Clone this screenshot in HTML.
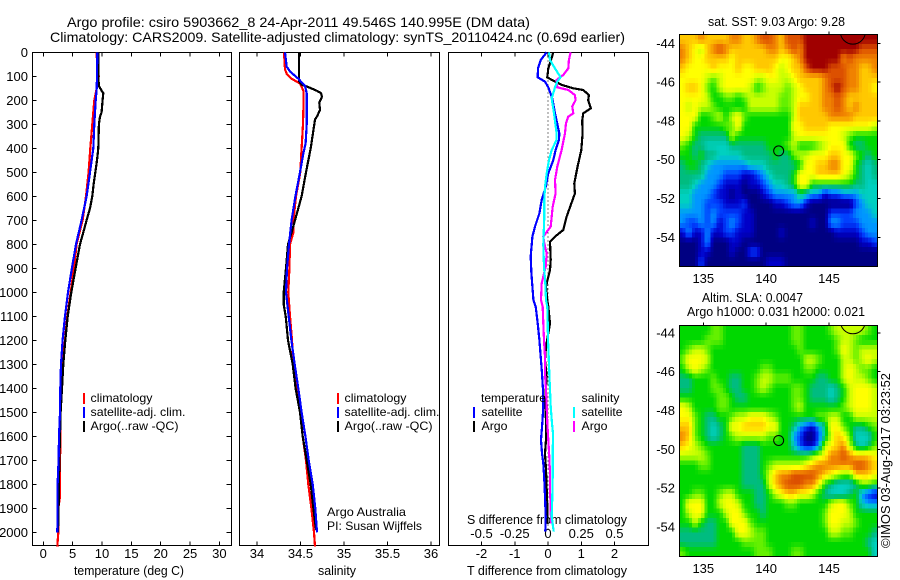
<!DOCTYPE html>
<html>
<head>
<meta charset="utf-8">
<title>Argo profile</title>
<style>
html,body{margin:0;padding:0;background:#fff;}
svg{display:block;}
text{font-family:"Liberation Sans",Arial,sans-serif;fill:#000;font-size:12px;}
.tick{font-size:13px;}
.ttl{font-size:14px;}
</style>
</head>
<body>
<svg id="chart" xmlns="http://www.w3.org/2000/svg" width="900" height="580" viewBox="0 0 900 580">
<defs>
<clipPath id="clipMap1"><rect x="679.5" y="34.5" width="198" height="232"/></clipPath>
<clipPath id="clipMap2"><rect x="679.5" y="325.5" width="198" height="231"/></clipPath>
</defs>
<text class="ttl" x="67" y="27" textLength="463" lengthAdjust="spacingAndGlyphs">Argo profile: csiro 5903662_8 24-Apr-2011 49.546S 140.995E (DM data)</text>
<text class="ttl" x="50" y="42" textLength="575" lengthAdjust="spacingAndGlyphs">Climatology: CARS2009. Satellite-adjusted climatology: synTS_20110424.nc (0.69d earlier)</text>

<text class="tick" x="74" y="575" textLength="110" lengthAdjust="spacingAndGlyphs">temperature (deg C)</text>
<text class="tick" x="318" y="575" textLength="38" lengthAdjust="spacingAndGlyphs">salinity</text>
<text class="tick" x="467" y="575" textLength="160" lengthAdjust="spacingAndGlyphs">T difference from climatology</text>
<text class="tick" x="467" y="524" textLength="160" lengthAdjust="spacingAndGlyphs">S difference from climatology</text>

<text class="tick" x="708" y="26" textLength="137" lengthAdjust="spacingAndGlyphs">sat. SST: 9.03 Argo: 9.28</text>
<text class="tick" x="702" y="302" textLength="101" lengthAdjust="spacingAndGlyphs">Altim. SLA: 0.0047</text>
<text class="tick" x="687" y="316" textLength="178" lengthAdjust="spacingAndGlyphs">Argo h1000: 0.031 h2000: 0.021</text>
<text class="tick" transform="translate(890,548) rotate(-90)" textLength="175" lengthAdjust="spacingAndGlyphs">©IMOS 03-Aug-2017 03:23:52</text>

<g id="panels"></g>

<text x="90.5" y="402" textLength="62" lengthAdjust="spacingAndGlyphs">climatology</text>
<text x="90.5" y="416" textLength="95" lengthAdjust="spacingAndGlyphs">satellite-adj. clim.</text>
<text x="90.5" y="430" textLength="88" lengthAdjust="spacingAndGlyphs">Argo(..raw -QC)</text>
<text x="344.5" y="402" textLength="62" lengthAdjust="spacingAndGlyphs">climatology</text>
<text x="344.5" y="416" textLength="95" lengthAdjust="spacingAndGlyphs">satellite-adj. clim.</text>
<text x="344.5" y="430" textLength="88" lengthAdjust="spacingAndGlyphs">Argo(..raw -QC)</text>
<text x="327" y="516" textLength="79" lengthAdjust="spacingAndGlyphs">Argo Australia</text>
<text x="327" y="530" textLength="95" lengthAdjust="spacingAndGlyphs">PI: Susan Wijffels</text>
<text x="481" y="402" textLength="65" lengthAdjust="spacingAndGlyphs">temperature</text>
<text x="481.5" y="416" textLength="41" lengthAdjust="spacingAndGlyphs">satellite</text>
<text x="481.5" y="430" textLength="26" lengthAdjust="spacingAndGlyphs">Argo</text>
<text x="581.5" y="402" textLength="38" lengthAdjust="spacingAndGlyphs">salinity</text>
<text x="581.5" y="416" textLength="41" lengthAdjust="spacingAndGlyphs">satellite</text>
<text x="581.5" y="430" textLength="26" lengthAdjust="spacingAndGlyphs">Argo</text>
</svg>

<script>
// ---- axis labels ----
var depthTicks = [0,100,200,300,400,500,600,700,800,900,1000,1100,1200,1300,1400,1500,1600,1700,1800,1900,2000];
var tempTicks = [0,5,10,15,20,25,30];
var salTicks = [34,34.5,35,35.5,36];
var tDiffTicks = [-2,-1,0,1,2];
var sDiffTicks = [-0.5,-0.25,0,0.25,0.5];
var lonTicks = [135,140,145];
var latTicks = [-44,-46,-48,-50,-52,-54];

// ---- temperature profiles ----
var tempClimDepth = [0,90,100,110,150,200,300,400,500,600,700,800,900,1000,1100,1200,1300,1400,1500,1600,1700,1800,1850,1900,2000,2060];
var tempClimValue = [9.09,9.2,9.48,9.2,9.09,8.69,8.35,8.01,7.72,7.27,6.7,5.68,5.22,4.66,4.09,3.69,3.24,3.01,2.95,2.95,2.84,2.84,2.84,2.56,2.56,2.39];
var tempSatDepth = [0,100,150,200,300,400,500,600,700,800,900,1000,1100,1200,1300,1400,1500,1600,1700,1800,1900,2000];
var tempSatValue = [9.2,9.14,9.09,8.92,8.69,8.52,7.95,7.38,6.53,5.57,4.88,4.2,3.69,3.29,3.01,2.9,2.84,2.67,2.61,2.44,2.44,2.39];
var tempArgoDepth = [0,100,140,160,170,200,250,270,300,400,450,500,550,600,650,700,750,800,900,1000,1100,1200,1300,1400,1500,1600,1700,1800,1900,2000];
var tempArgoValue = [9.37,9.37,9.48,9.94,10.22,10.11,9.94,9.65,9.48,9.37,9.14,8.86,8.57,8.35,7.95,7.38,6.81,6.25,5.51,4.77,4.15,3.75,3.41,3.18,2.95,2.84,2.73,2.67,2.61,2.5];

// ---- salinity profiles ----
var salClimDepth = [0,70,90,110,130,160,200,300,400,500,600,700,750,800,900,1000,1100,1200,1300,1400,1500,1600,1700,1800,1900,2000,2060];
var salClimValue = [34.31,34.322,34.341,34.398,34.494,34.533,34.536,34.529,34.513,34.498,34.448,34.418,34.418,34.379,34.372,34.36,34.379,34.402,34.418,34.467,34.498,34.525,34.563,34.59,34.625,34.655,34.667];
var salSatDepth = [0,60,80,110,140,170,300,380,420,500,600,700,800,900,1000,1100,1200,1300,1400,1500,1600,1700,1800,1900,2000];
var salSatValue = [34.322,34.341,34.379,34.475,34.552,34.571,34.571,34.559,34.533,34.494,34.441,34.398,34.368,34.345,34.333,34.364,34.395,34.433,34.475,34.513,34.556,34.594,34.64,34.67,34.69];
var salArgoDepth = [0,120,135,145,160,170,185,210,240,265,280,300,400,500,600,650,700,750,800,900,1000,1050,1100,1200,1300,1400,1500,1600,1700,1800,1900,1990];
var salArgoValue = [34.483,34.483,34.513,34.59,34.686,34.736,34.747,34.716,34.724,34.693,34.667,34.659,34.617,34.563,34.513,34.475,34.437,34.398,34.356,34.333,34.307,34.307,34.33,34.356,34.41,34.444,34.494,34.525,34.571,34.617,34.648,34.678];

// ---- difference profiles ----
var dTempSatDepth = [0,32,67,104,122,146,192,254,337,365,407,449,504,560,615,671,726,768,851,921,976,1032,1060,1129,1199,1268,1338,1407,1476,1546,1615,1671,1713,1782,1851,1935,1997];
var dTempSatValue = [-0.04,-0.22,-0.3,-0.31,-0.09,0.01,0.13,0.21,0.34,0.33,0.23,0.16,0.01,-0.07,-0.19,-0.26,-0.39,-0.47,-0.52,-0.5,-0.47,-0.44,-0.37,-0.31,-0.26,-0.22,-0.18,-0.15,-0.14,-0.17,-0.21,-0.18,-0.14,-0.11,-0.09,-0.07,-0.08];
var dTempArgoDepth = [0,32,67,104,115,136,150,157,178,199,233,254,285,337,407,476,546,588,615,685,740,768,789,865,907,935,976,1032,1060,1129,1171,1226,1282,1351,1435,1546,1615,1671,1740,1824,1893,1963];
var dTempArgoValue = [0.16,0.09,0.01,-0.02,0.11,0.41,0.76,1.06,1.23,1.21,1.29,1.06,1.03,1.04,1.0,0.89,0.79,0.81,0.74,0.56,0.46,0.21,0.06,0.08,0.06,0.01,-0.06,-0.02,0.01,0.06,0.01,-0.06,-0.09,-0.04,-0.08,-0.06,-0.06,-0.09,-0.06,-0.04,-0.02,-0.02];
var dSalSatDepth = [0,32,67,104,122,146,192,254,337,365,407,449,504,560,615,685,754,803,893,962,1032,1060,1129,1199,1268,1338,1407,1476,1546,1588,1685,1768,1851,1935,1997];
var dSalSatValue = [0.0075,0.015,0.0525,0.095,0.07,0.0525,0.0275,0.045,0.065,0.065,0.0275,0.0075,-0.01,-0.0225,-0.0275,-0.0275,-0.0325,-0.035,-0.03,-0.02,-0.015,-0.005,-0.0025,0,0.005,0.01,0.015,0.02,0.03,0.0375,0.035,0.035,0.0325,0.0275,0.0425];
var dSalArgoDepth = [0,32,67,94,115,146,157,178,199,226,254,268,296,337,407,476,532,588,643,726,768,796,838,893,962,1032,1060,1129,1199,1268,1338,1407,1476,1546,1615,1685,1754,1824,1893,1963];
var dSalArgoValue = [0.17,0.1575,0.1525,0.115,0.065,0.07,0.1525,0.2025,0.2075,0.1825,0.19,0.1525,0.135,0.1275,0.1025,0.07,0.0525,0.0575,0.035,0.02,-0.035,-0.0275,-0.01,-0.0175,-0.0475,-0.0525,-0.04,-0.035,-0.03,-0.0225,-0.0225,-0.015,-0.01,-0.005,0.0025,0.01,0.015,0.015,0.02,0.0225];

// ---- map colour levels ----
var colorLevels = ["#000082","#0000c8","#0040ff","#0096ff","#00d0c0","#00bc80","#00d800","#64f000","#c8ff00","#ffff00","#ffc800","#f08200","#dc5000","#a00000"];

var sstRows = [
[10,10,10,11,10,10,10,10,11,11,10,10,11,12,12,11,10,12,12,12,13,13,13,13,13,13,13,13,13,13,13,13],
[11,10,9,8,10,11,12,11,10,10,10,10,10,10,11,11,10,11,12,11,13,13,13,13,13,13,13,13,13,12,12,12],
[11,10,9,9,10,10,10,10,9,10,10,10,10,10,10,10,9,9,10,11,13,13,13,13,13,13,11,12,11,11,11,11],
[10,9,9,9,9,10,9,9,9,10,9,9,10,10,10,9,8,9,10,10,12,13,13,13,12,12,12,11,11,10,10,11],
[9,9,9,9,8,7,8,9,9,9,9,9,8,8,9,9,8,8,9,10,10,10,10,11,12,12,12,11,11,10,10,10],
[9,10,10,9,7,6,8,9,9,9,9,8,6,7,8,8,8,7,8,9,10,10,10,11,12,13,12,11,11,10,10,9],
[9,9,9,9,8,6,6,7,7,6,7,8,8,8,8,8,7,7,8,9,9,10,10,11,11,12,11,10,10,10,10,10],
[9,8,9,8,8,7,6,6,6,6,6,8,8,8,8,8,7,7,8,10,10,10,10,11,11,12,11,10,11,10,10,10],
[9,9,9,6,6,7,8,6,8,9,7,6,6,6,6,6,6,6,8,10,10,10,10,10,11,11,11,11,10,10,10,10],
[9,9,6,6,6,6,6,7,7,9,6,6,6,6,6,6,6,6,9,9,10,10,10,10,9,9,9,9,9,9,9,8],
[9,8,6,5,5,5,5,5,8,6,6,6,6,6,6,6,6,6,8,9,9,9,9,9,9,9,8,7,6,6,6,6],
[7,6,5,5,4,4,4,4,5,5,5,5,5,5,6,6,6,7,8,6,6,6,7,8,9,9,9,6,5,5,6,6],
[6,6,5,6,5,5,4,4,4,4,5,5,5,5,5,6,5,5,7,8,8,9,9,9,10,10,9,9,7,6,5,6],
[5,6,6,5,4,3,3,3,3,3,3,4,4,4,5,5,5,5,5,6,9,9,10,10,11,11,9,9,6,5,4,5],
[5,5,5,5,3,3,3,2,2,2,1,1,2,3,4,5,5,5,6,9,9,9,10,10,10,10,9,8,6,5,4,5],
[5,5,4,3,3,3,2,1,1,1,0,1,1,2,3,4,4,5,6,9,9,6,6,6,6,6,6,6,5,5,4,4],
[4,4,3,3,3,2,1,1,0,1,0,0,0,1,2,3,3,3,3,5,4,3,3,1,2,2,3,3,3,4,4,4],
[4,4,3,3,2,2,2,1,1,1,2,0,0,0,0,1,1,2,3,3,1,0,0,0,0,0,0,0,2,3,4,4],
[3,3,3,3,2,3,2,2,2,2,1,1,0,0,0,0,0,0,0,0,0,0,0,0,2,2,2,2,3,3,3,4],
[3,2,2,3,2,3,1,2,3,2,1,1,0,0,0,0,0,0,0,0,0,1,0,0,3,3,2,2,2,3,3,3],
[1,3,1,1,3,1,1,2,2,1,1,1,0,0,0,0,1,0,0,0,0,0,0,0,0,1,1,1,1,2,3,3],
[0,0,0,1,3,0,0,0,1,1,0,0,0,0,0,0,0,0,0,0,0,0,0,0,0,0,0,0,0,1,1,2],
[0,0,0,1,1,0,0,0,1,0,0,2,2,0,0,0,0,0,0,0,0,0,0,0,0,0,0,0,0,0,0,0],
[0,0,0,2,0,0,0,0,0,0,0,0,0,0,1,1,1,0,0,0,0,0,0,0,0,0,0,0,0,0,0,0]
];

var slaRows = [
[6,6,6,6,6,7,7,6,6,6,6,6,6,6,6,6,6,6,7,7,6,6,6,6,7,8,8,8,8,8,7,6],
[6,6,6,6,7,7,7,6,6,6,6,6,6,6,6,6,6,6,7,7,6,6,6,6,6,7,8,8,7,6,6,6],
[6,7,8,8,7,6,6,6,6,6,6,6,6,6,6,6,6,6,6,7,6,6,6,6,6,7,9,8,7,8,8,8],
[7,9,9,9,8,6,6,6,6,6,6,6,6,6,6,6,6,6,6,6,8,8,7,6,6,6,8,8,7,8,9,8],
[6,8,9,8,7,6,6,6,6,6,6,6,6,7,7,6,6,6,6,6,7,7,6,6,6,6,8,9,8,7,7,6],
[5,5,6,6,6,7,6,6,5,5,6,6,7,8,8,7,7,7,6,6,6,6,5,5,6,6,8,9,8,8,7,6],
[5,5,6,6,6,7,7,6,5,5,6,6,7,8,7,6,6,6,7,7,6,5,5,5,4,5,6,8,9,9,9,8],
[6,6,6,6,6,6,7,7,6,5,5,6,6,6,6,6,6,6,7,7,6,5,5,5,4,5,6,8,9,9,9,8],
[9,8,6,6,6,6,7,7,6,6,6,6,6,6,6,6,6,6,7,8,6,6,6,6,6,6,7,8,9,9,9,8],
[9,9,7,6,5,5,6,6,7,8,8,9,9,9,8,7,6,6,6,6,6,6,7,7,8,8,6,6,8,8,8,8],
[10,10,7,6,5,4,5,6,9,9,10,10,10,10,9,9,6,6,5,3,2,1,3,5,9,9,7,6,5,5,6,7],
[11,10,7,6,5,4,5,6,7,8,8,8,8,8,7,7,6,6,3,2,0,0,2,5,8,10,9,7,4,4,4,6],
[10,9,8,7,6,6,6,6,6,6,5,5,5,6,6,6,6,6,4,2,1,1,3,8,9,10,11,8,5,4,5,7],
[8,8,8,8,7,6,6,6,6,6,5,5,5,6,6,6,6,6,6,6,6,7,8,9,11,11,12,11,10,10,10,9],
[6,6,6,7,7,6,6,6,6,6,5,5,5,6,7,8,8,8,8,8,9,10,11,11,11,11,11,11,12,12,11,10],
[6,6,6,6,6,6,6,6,6,6,5,5,5,6,8,10,11,11,12,12,12,12,11,10,9,8,7,7,10,10,10,9],
[6,6,6,6,6,6,6,6,6,6,5,5,5,5,8,10,11,12,12,12,11,11,9,6,5,4,4,4,5,7,7,6],
[6,6,7,7,6,6,7,8,8,6,6,6,5,5,6,8,9,10,10,9,9,8,6,5,4,4,4,5,6,3,2,1],
[6,9,9,9,6,6,8,9,9,8,6,6,5,5,6,6,6,7,7,6,6,6,6,6,8,9,9,7,6,4,3,3],
[6,8,9,9,6,6,6,8,9,9,7,6,6,5,6,6,6,6,6,6,6,6,6,7,9,9,9,8,6,6,6,6],
[6,6,8,6,5,5,6,6,9,9,9,7,6,6,6,6,6,6,6,6,6,6,6,7,9,9,8,8,7,6,6,6],
[5,5,5,5,5,5,6,6,6,9,9,8,7,7,6,6,6,6,6,6,6,6,6,6,8,8,7,7,6,6,6,5],
[5,5,5,5,5,5,6,6,6,6,7,7,7,7,6,6,6,6,6,6,6,6,6,6,6,6,6,6,6,6,5,4],
[7,6,6,6,6,6,6,6,6,6,6,6,7,7,7,6,6,6,7,7,6,6,6,6,6,6,6,6,6,6,6,4]
];

var profileLon = [140.995];
var profileLat = [-49.546];
var neighbourLon = [146.9];
var neighbourLat = [-43.4];

// ---- axis functions ----
var panelTop = 52.5, panelBottom = 545.5;
function yDepth(d){ return 52.3 + 0.24 * d; }
function xTemp(v){ return 43.3 + 5.87 * v; }
function xSal(v){ return 257 + 87 * (v - 34); }
function xTDiff(v){ return 548 + 33.25 * v; }
function xSDiff(v){ return 548 + 133 * v; }
function xLon(v){ return 703.3 + 12.57 * (v - 135); }
function yLatMap1(v){ return 43.3 + 19.4 * (-44 - v); }
function yLatMap2(v){ return 332.9 + 19.4 * (-44 - v); }

var NS = 'http://www.w3.org/2000/svg';
var svg = document.getElementById('chart');
var panels = document.getElementById('panels');

function make(tag, parent, attrs){
  var el = document.createElementNS(NS, tag);
  for (var k in attrs) el.setAttribute(k, attrs[k]);
  parent.appendChild(el);
  return el;
}

function seg(parent, x1, y1, x2, y2, name){
  var el = make('line', parent, {x1:x1, y1:y1, x2:x2, y2:y2, stroke:'#000', 'stroke-width':1, 'shape-rendering':'crispEdges'});
  
  
  return el;
}

function label(parent, x, y, str, anchor, name){
  var el = make('text', parent, {x:x, y:y, 'text-anchor':anchor, 'class':'tick'});
  el.textContent = str;
  
  
  return el;
}

function frame(parent, x, y, w, h, name){
  var el = make('rect', parent, {x:x, y:y, width:w, height:h, fill:'none', stroke:'#000', 'stroke-width':1, 'shape-rendering':'crispEdges'});
  
  
  return el;
}

function profile(parent, depths, values, xFn, color, name){
  var pts = [];
  for (var i = 0; i < depths.length; i++) pts.push(xFn(values[i]).toFixed(1) + ',' + yDepth(depths[i]).toFixed(1));
  var el = make('polyline', parent, {points:pts.join(' '), fill:'none', stroke:color, 'stroke-width':2.2, 'stroke-linejoin':'miter', 'shape-rendering':'crispEdges'});
  
  
  return el;
}

function swatch(parent, x, y, color, name){
  var el = make('rect', parent, {x:x, y:y, width:2, height:11, fill:color, 'shape-rendering':'crispEdges'});
  
  
  return el;
}

function xTicks(parent, ticks, xFn, l, prefix){
  ticks.forEach(function(t){
    seg(parent, xFn(t), panelTop, xFn(t), panelTop + 4, prefix + '-top-tick');
    seg(parent, xFn(t), panelBottom, xFn(t), panelBottom - 4, prefix + '-bottom-tick');
    label(parent, xFn(t), 558, String(t), 'middle', prefix + '-tick-label');
  });
}

// ---- panel 1: temperature ----
var p1 = make('g', panels, {});


frame(p1, 32.5, panelTop, 199, panelBottom - panelTop, 'temperature-panel-frame');
xTicks(p1, tempTicks, xTemp, 0, 'temperature');
depthTicks.forEach(function(d){
  var y = yDepth(d);
  seg(p1, 32.5, y, 36.5, y, 'depth-left-tick');
  seg(p1, 231.5, y, 226.5, y, 'depth-right-tick');
  label(p1, 28, y + 4.5, String(d), 'end', 'depth-tick-label');
});
profile(p1, tempClimDepth, tempClimValue, xTemp, '#ff0000', 'temperature-climatology-line');
profile(p1, tempArgoDepth, tempArgoValue, xTemp, '#000000', 'temperature-argo-line');
profile(p1, tempSatDepth, tempSatValue, xTemp, '#0000ff', 'temperature-satellite-line');
swatch(p1, 83, 393, '#ff0000', 'legend-temp-climatology-swatch');
swatch(p1, 83, 407, '#0000ff', 'legend-temp-satellite-swatch');
swatch(p1, 83, 421, '#000000', 'legend-temp-argo-swatch');

// ---- panel 2: salinity ----
var p2 = make('g', panels, {});


frame(p2, 239.5, panelTop, 200, panelBottom - panelTop, 'salinity-panel-frame');
xTicks(p2, salTicks, xSal, 0, 'salinity');
profile(p2, salClimDepth, salClimValue, xSal, '#ff0000', 'salinity-climatology-line');
profile(p2, salArgoDepth, salArgoValue, xSal, '#000000', 'salinity-argo-line');
profile(p2, salSatDepth, salSatValue, xSal, '#0000ff', 'salinity-satellite-line');
swatch(p2, 337, 393, '#ff0000', 'legend-sal-climatology-swatch');
swatch(p2, 337, 407, '#0000ff', 'legend-sal-satellite-swatch');
swatch(p2, 337, 421, '#000000', 'legend-sal-argo-swatch');

// ---- panel 3: differences ----
var p3 = make('g', panels, {});


frame(p3, 448.5, panelTop, 200, panelBottom - panelTop, 'difference-panel-frame');
xTicks(p3, tDiffTicks, xTDiff, 0, 't-difference');
sDiffTicks.forEach(function(t){
  label(p3, xSDiff(t), 538, String(t), 'middle', 's-difference-tick-label');
});
var zero = make('line', p3, {x1:xTDiff(0), y1:yDepth(0), x2:xTDiff(0), y2:yDepth(2000), stroke:'#000', 'stroke-width':1, 'stroke-dasharray':'1 3', 'shape-rendering':'crispEdges'});


profile(p3, dTempArgoDepth, dTempArgoValue, xTDiff, '#000000', 't-difference-argo-line');
profile(p3, dSalArgoDepth, dSalArgoValue, xSDiff, '#ff00ff', 's-difference-argo-line');
profile(p3, dTempSatDepth, dTempSatValue, xTDiff, '#0000ff', 't-difference-satellite-line');
profile(p3, dSalSatDepth, dSalSatValue, xSDiff, '#00ffff', 's-difference-satellite-line');
swatch(p3, 473, 407, '#0000ff', 'legend-diff-t-satellite-swatch');
swatch(p3, 473, 421, '#000000', 'legend-diff-t-argo-swatch');
swatch(p3, 573, 407, '#00ffff', 'legend-diff-s-satellite-swatch');
swatch(p3, 573, 421, '#ff00ff', 'legend-diff-s-argo-swatch');

// ---- maps ----
function levelColor(level){
  var lo = Math.max(0, Math.min(colorLevels.length - 1, Math.floor(level)));
  var hi = Math.min(colorLevels.length - 1, lo + 1);
  var t = Math.max(0, Math.min(1, level - lo));
  var out = '#';
  for (var i = 1; i < 7; i += 2) {
    var a = parseInt(colorLevels[lo].substr(i, 2), 16);
    var b = parseInt(colorLevels[hi].substr(i, 2), 16);
    var v = Math.round(a + (b - a) * t).toString(16);
    out += v.length < 2 ? '0' + v : v;
  }
  return out;
}

function sampleLevel(rows, u, v){
  var nr = rows.length, nc = rows[0].length;
  var cu = Math.max(0, Math.min(nc - 1, u)), cv = Math.max(0, Math.min(nr - 1, v));
  var c0 = Math.floor(cu), r0 = Math.floor(cv);
  var c1 = Math.min(nc - 1, c0 + 1), r1 = Math.min(nr - 1, r0 + 1);
  var fu = cu - c0, fv = cv - r0;
  return (rows[r0][c0] * (1 - fu) + rows[r0][c1] * fu) * (1 - fv) + (rows[r1][c0] * (1 - fu) + rows[r1][c1] * fu) * fv;
}

function heatmap(rows, top, bottom, clipId, namePrefix, yFn, labelY){
  var g = make('g', panels, {});
  
  
  var clip = make('g', g, {'clip-path':'url(#' + clipId + ')'});
  
  
  var cells = make('g', clip, {'shape-rendering':'crispEdges'});
  
  
  var left = 679.5, width = 198, sub = 2;
  var nr = rows.length * sub, nc = rows[0].length * sub;
  var h = (bottom - top) / nr, w = width / nc;
  for (var r = 0; r < nr; r++) {
    for (var c = 0; c < nc; c++) {
      var level = sampleLevel(rows, (c + 0.5) / sub - 0.5, (r + 0.5) / sub - 0.5);
      var cell = make('rect', cells, {x:(left + c * w).toFixed(2), y:(top + r * h).toFixed(2), width:(w + 0.5).toFixed(2), height:(h + 0.5).toFixed(2), fill:levelColor(level)});
      
      
    }
  }
  var big = make('circle', clip, {cx:xLon(neighbourLon[0]), cy:yFn(neighbourLat[0]), r:12.5, fill:'none', stroke:'#000', 'stroke-width':1});
  
  
  var small = make('circle', clip, {cx:xLon(profileLon[0]), cy:yFn(profileLat[0]), r:5, fill:'none', stroke:'#000', 'stroke-width':1});
  
  
  frame(g, 679.5, top, width, bottom - top, namePrefix + '-map-frame');
  lonTicks.forEach(function(lon){
    seg(g, xLon(lon), top, xLon(lon), top - 3, namePrefix + '-lon-tick');
    label(g, xLon(lon), labelY, String(lon), 'middle', namePrefix + '-lon-tick-label');
  });
  latTicks.forEach(function(lat){
    seg(g, 877.5, yFn(lat), 880.5, yFn(lat), namePrefix + '-lat-tick');
    label(g, 675, yFn(lat) + 4.5, String(lat), 'end', namePrefix + '-lat-tick-label');
  });
}
heatmap(sstRows, 34.5, 266.5, 'clipMap1', 'sst', yLatMap1, 283);
heatmap(slaRows, 325.5, 556.5, 'clipMap2', 'sla', yLatMap2, 573);
</script>
</body>
</html>
